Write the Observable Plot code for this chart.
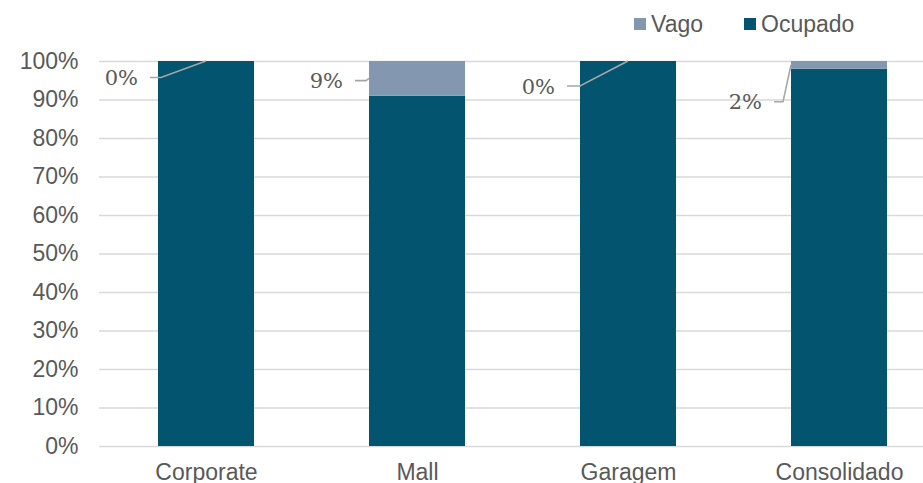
<!DOCTYPE html>
<html>
<head>
<meta charset="utf-8">
<script src="https://cdn.jsdelivr.net/npm/d3@7"></script>
<script src="https://cdn.jsdelivr.net/npm/@observablehq/plot@0.6"></script>
<style>
  html, body { margin: 0; padding: 0; background: #fff; }
  #wrap { position: relative; width: 923px; height: 483px; overflow: hidden; }
  .leg { position: absolute; top: 7px; height: 34px; display: flex; align-items: center;
         font-family: "Liberation Sans", Arial, sans-serif; font-size: 23px; color: #595959; }
  .sw { width: 12px; height: 12px; margin-right: 5px; }
</style>
</head>
<body>
<div id="wrap"></div>
<script>
const categories = ["Corporate", "Mall", "Garagem", "Consolidado"];
const series = ["Vago", "Ocupado"];
const vago = [0, 9, 0, 2];
const ocupado = [100, 91, 100, 98];
const yTicks = [0, 10, 20, 30, 40, 50, 60, 70, 80, 90, 100];
const colors = { Vago: "#8497b0", Ocupado: "#02546f" };

// label layout (pixel offsets from the bar's left edge, label height in % units)
const labelRight = [-20, -26, -25, -29];
const labelElbow = [3, -3, 0, -8];
const labelY = [95.7, 94.9, 93.5, 89.4];
const paddingInner = 0.546;

const rows = [];
categories.forEach((c, i) => {
  rows.push({ cat: c, serie: "Ocupado", value: ocupado[i] });
  rows.push({ cat: c, serie: "Vago", value: vago[i] });
});

const leaderMark = (index, scales, values, dimensions) => {
  const g = d3.create("svg:g");
  const step = scales.x(categories[1]) - scales.x(categories[0]);
  const bw = step * (1 - paddingInner);
  categories.forEach((c, i) => {
    const left = scales.x(c);
    const ly = scales.y(labelY[i]);
    let ex, ey;
    if (vago[i] > 0) { ex = left; ey = scales.y(ocupado[i] + vago[i] / 2); }
    else { ex = left + bw / 2; ey = scales.y(ocupado[i] + vago[i]); }
    const pts = [[left + labelRight[i] + 12, ly], [left + labelElbow[i], ly], [ex, ey]];
    g.append("path")
      .attr("d", d3.line()(pts))
      .attr("fill", "none")
      .attr("stroke", "#a6a6a6")
      .attr("stroke-width", 1.6);
    g.append("text")
      .attr("x", left + labelRight[i])
      .attr("y", ly)
      .attr("dy", "0.36em")
      .attr("text-anchor", "end")
      .attr("font-family", "'DejaVu Serif', serif")
      .attr("font-size", 21)
      .attr("fill", "#595959")
      .text(vago[i] + "%");
  });
  return g.node();
};

const chart = Plot.plot({
  width: 923,
  height: 483,
  marginTop: 61,
  marginBottom: 37,
  marginLeft: 99,
  marginRight: 0,
  style: { fontFamily: "'Liberation Sans', Arial, sans-serif", fontSize: "23px", color: "#595959", background: "#fff" },
  x: { domain: categories, range: [99, 945], paddingInner: paddingInner, paddingOuter: paddingInner / 2, label: null, tickSize: 0, tickPadding: 17 },
  y: { domain: [0, 100], ticks: yTicks, tickFormat: d => d + "%", label: null, tickSize: 0, tickPadding: 21 },
  color: { domain: series, range: series.map(s => colors[s]) },
  marks: [
    Plot.ruleY(yTicks, { stroke: "#d9d9d9", strokeWidth: 1.6 }),
    Plot.barY(rows, Plot.stackY({ x: "cat", y: "value", fill: "serie", order: ["Ocupado", "Vago"] })),
    leaderMark
  ]
});
chart.style.position = "absolute";
chart.style.left = "0px";
chart.style.top = "0px";
const wrap = document.getElementById("wrap");
wrap.appendChild(chart);

const legPos = { Vago: 634, Ocupado: 744 };
series.forEach(s => {
  const d = document.createElement("div");
  d.className = "leg";
  d.style.left = legPos[s] + "px";
  d.innerHTML = `<span class="sw" style="background:${colors[s]}"></span><span>${s}</span>`;
  wrap.appendChild(d);
});
</script>
</body>
</html>
